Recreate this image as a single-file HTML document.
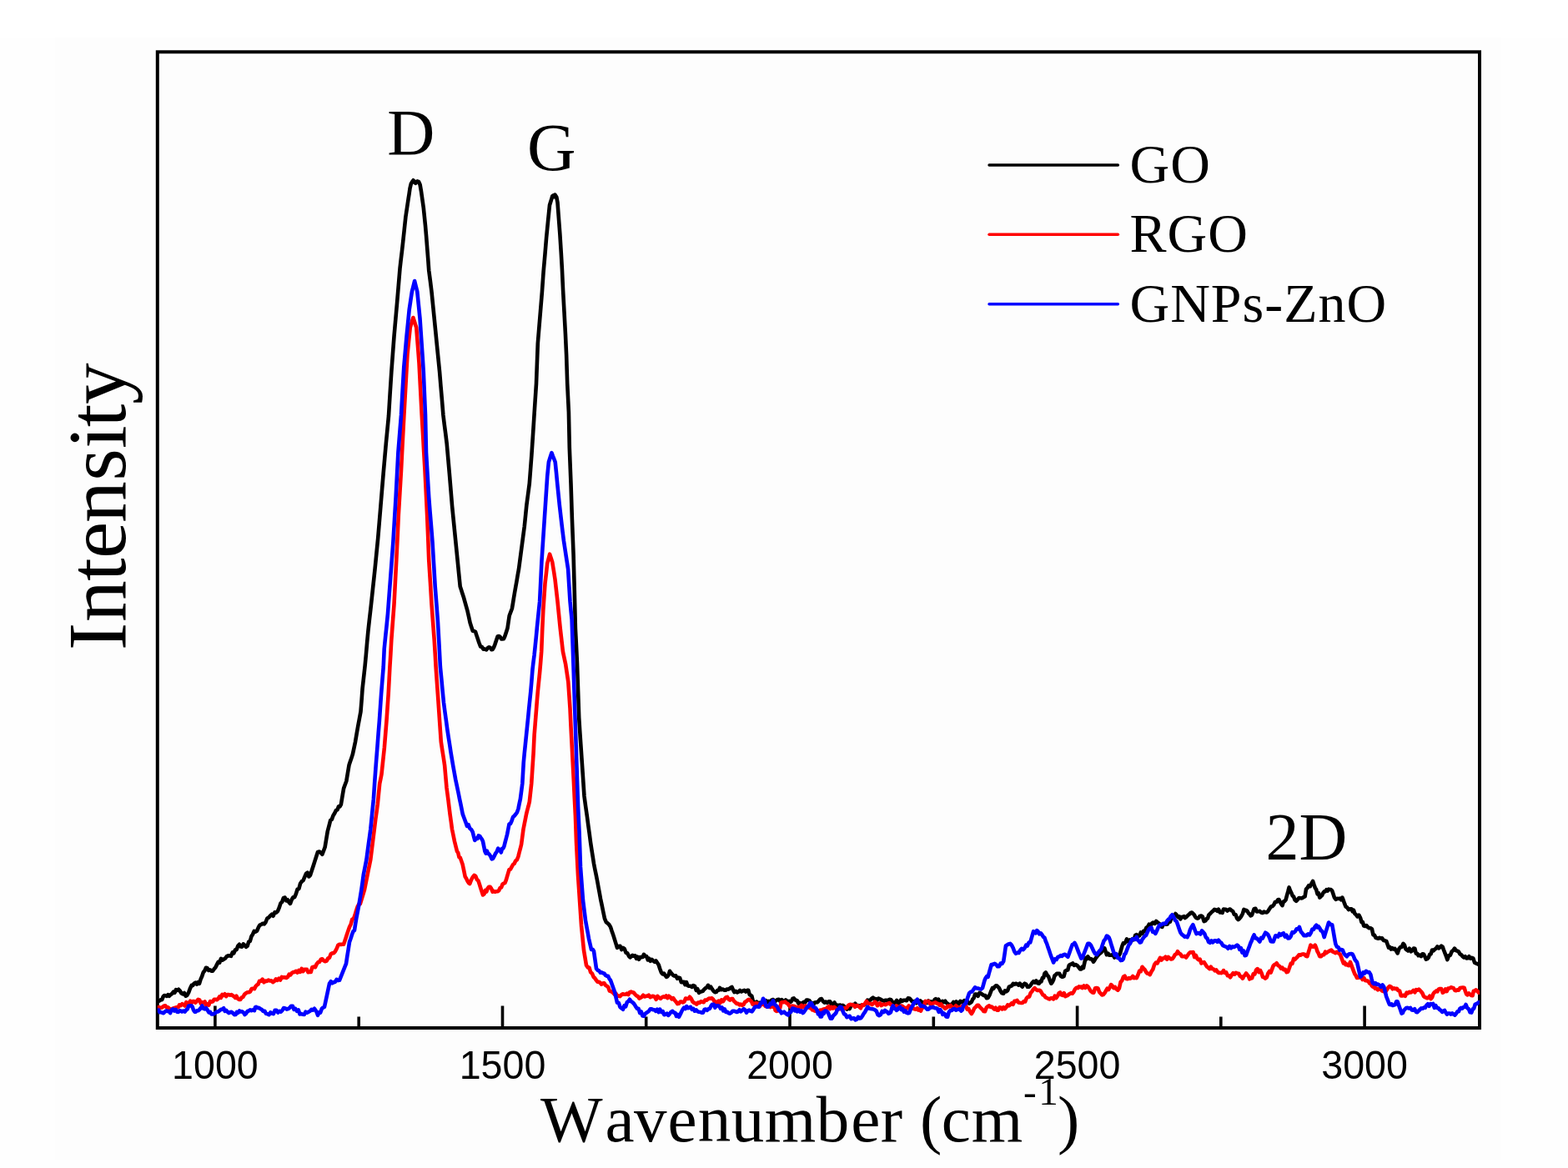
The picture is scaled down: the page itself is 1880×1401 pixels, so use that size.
<!DOCTYPE html>
<html><head><meta charset="utf-8"><title>Raman spectra</title>
<style>html,body{margin:0;padding:0;background:#fff;}svg{display:block;}.sf{font-family:"Liberation Serif",serif;}.ss{font-family:"Liberation Sans",sans-serif;}</style>
</head><body>
<svg width="1880" height="1401" viewBox="0 0 1880 1401"><rect x="0" y="0" width="1880" height="1401" fill="#ffffff"/><rect x="0" y="45" width="1880" height="1356" fill="#fefefe"/><rect x="66" y="45" width="1734" height="1346" fill="#fdfdfd"/><rect x="188.8" y="62.3" width="1585.2" height="1170.7" fill="none" stroke="#000" stroke-width="4"/><path d="M257.9 1233.0V1206.5M602.5 1233.0V1206.5M947.0 1233.0V1206.5M1291.6 1233.0V1206.5M1636.1 1233.0V1206.5M430.2 1233.0V1219.5M774.7 1233.0V1219.5M1119.3 1233.0V1219.5M1463.8 1233.0V1219.5" stroke="#000" stroke-width="3.6" fill="none"/><defs><clipPath id="pc"><rect x="188.8" y="40" width="1585.2" height="1193"/></clipPath></defs><path clip-path="url(#pc)" d="M189.0 1201.7L190.2 1200.8L191.4 1200.4L192.8 1199.1L194.2 1199.2L195.7 1195.4L197.1 1194.0L198.6 1194.2L200.0 1194.8L201.4 1193.1L202.9 1194.7L204.6 1193.1L206.3 1191.9L208.0 1189.6L209.5 1190.7L211.0 1187.2L212.6 1187.9L214.1 1186.7L215.6 1188.3L217.4 1191.3L219.1 1192.4L220.9 1191.0L222.7 1194.7L224.4 1193.7L226.2 1190.4L227.9 1185.8L229.7 1181.9L231.2 1182.1L232.8 1179.6L234.3 1178.6L235.9 1180.6L237.4 1178.1L239.0 1179.8L240.6 1174.6L242.2 1171.0L243.8 1166.2L245.4 1164.4L247.0 1160.8L248.6 1161.3L250.2 1164.0L251.8 1163.3L253.4 1164.6L255.0 1164.8L256.7 1162.3L258.3 1160.5L260.0 1157.1L261.7 1153.8L263.3 1154.6L265.0 1149.8L266.7 1151.7L268.4 1150.5L270.1 1149.5L271.9 1147.2L273.6 1146.4L275.3 1146.3L277.0 1146.8L278.7 1142.5L280.3 1143.4L282.0 1139.3L283.7 1139.1L285.3 1134.6L287.0 1132.8L288.6 1135.5L290.2 1135.6L291.8 1132.3L293.4 1133.9L295.0 1135.8L296.6 1134.7L298.2 1129.7L299.8 1129.0L301.4 1123.3L303.0 1120.8L304.7 1117.0L306.4 1117.7L308.1 1116.5L309.9 1112.3L311.6 1109.6L313.3 1108.9L315.0 1107.8L316.8 1108.4L318.6 1106.0L320.4 1101.5L322.2 1100.6L324.0 1098.5L325.8 1096.8L327.6 1098.7L329.4 1094.3L331.2 1094.6L333.0 1092.8L334.8 1088.6L336.5 1083.4L338.2 1081.9L340.0 1076.9L341.6 1076.6L343.2 1080.4L344.8 1079.3L346.4 1082.1L348.0 1083.9L349.7 1079.3L351.5 1076.3L353.2 1076.2L354.9 1072.2L356.6 1066.6L358.4 1066.0L360.1 1059.7L361.8 1057.2L363.5 1056.1L365.3 1051.8L367.0 1047.9L368.7 1046.7L370.3 1051.5L372.0 1049.9L373.8 1044.3L375.6 1038.7L377.4 1033.1L379.2 1027.5L381.0 1021.9L382.8 1021.5L384.6 1022.7L386.4 1024.8L388.0 1020.5L389.6 1016.3L391.2 1006.6L392.8 997.0L394.5 990.6L396.1 984.2L397.8 982.9L399.5 978.3L401.2 975.5L402.9 971.9L404.6 971.3L406.0 967.3L407.5 967.4L408.9 964.9L410.5 955.2L412.1 945.6L413.7 941.3L415.3 937.0L416.9 927.4L418.5 917.8L419.9 913.5L421.4 909.2L422.8 904.9L424.4 897.4L426.0 889.9L427.6 880.3L429.3 870.7L430.9 862.1L432.5 853.5L433.6 839.6L434.6 825.7L436.1 812.2L437.6 798.8L438.9 784.9L440.1 770.9L441.4 757.0L442.8 744.2L444.3 731.3L445.7 718.5L447.0 706.3L448.3 694.2L449.6 682.0L451.4 663.8L453.2 645.6L454.8 626.4L456.4 607.1L458.0 587.8L459.6 568.5L461.2 550.3L462.8 532.1L464.4 515.5L466.0 498.8L467.6 472.6L469.3 446.3L470.9 424.9L472.5 403.5L473.7 389.9L474.9 376.4L476.1 362.8L477.8 342.5L479.5 322.1L480.7 311.4L482.0 300.7L483.2 290.0L484.8 275.0L486.4 260.0L488.0 249.3L489.6 238.6L490.6 232.3L491.5 226.0L492.8 220.5L494.5 217.6L495.5 216.3L496.5 217.3L497.4 219.0L498.3 219.8L499.3 218.0L500.3 217.4L502.0 217.9L503.6 221.5L505.0 229.5L506.4 239.4L507.8 249.3L508.9 260.0L510.0 270.7L511.1 283.5L512.1 296.4L513.2 310.3L514.2 324.2L515.9 337.1L517.5 350.0L519.1 366.0L520.7 382.0L522.3 398.1L523.9 414.2L525.5 430.2L527.1 446.3L528.5 463.4L530.0 480.6L531.4 497.7L532.8 509.2L534.3 520.6L535.7 532.1L537.3 550.3L538.9 568.5L540.5 587.8L542.1 607.1L543.7 623.2L545.3 639.2L546.9 655.2L548.5 671.3L550.1 687.4L551.7 703.5L553.2 708.0L554.6 712.6L556.1 717.1L557.5 722.1L558.9 727.1L560.3 732.1L562.0 739.6L563.6 747.1L565.2 751.9L566.8 756.7L568.4 757.0L570.0 757.8L571.4 762.1L572.9 766.4L574.3 770.7L576.1 775.5L577.8 776.0L579.6 778.8L581.4 778.6L583.2 779.4L585.0 777.1L586.4 776.3L587.9 776.9L589.3 779.2L590.7 778.9L592.1 776.4L593.5 772.8L595.1 768.0L596.7 763.2L598.1 763.1L599.6 763.9L601.0 766.4L602.4 766.4L603.9 766.3L605.3 763.2L606.9 758.4L608.5 753.5L609.6 746.0L610.7 738.5L612.3 734.2L613.9 730.0L615.0 723.5L616.0 717.1L617.1 710.7L618.2 704.3L619.5 697.1L620.7 689.9L622.0 682.7L623.7 669.9L625.4 657.0L627.1 644.1L628.8 631.3L630.1 618.5L631.4 605.6L633.1 592.8L634.8 579.9L636.1 562.8L637.4 545.7L639.1 520.0L640.2 502.9L641.3 485.7L643.0 460.0L644.8 411.9L646.5 391.3L648.2 370.7L649.9 350.2L651.6 326.2L653.4 305.7L655.1 285.1L656.2 274.0L657.3 262.8L659.0 246.0L660.1 242.5L661.2 239.0L662.2 235.4L663.3 234.5L664.4 236.1L665.5 233.6L667.3 236.5L668.5 243.0L669.6 257.7L671.3 280.0L672.7 302.2L673.9 322.8L675.1 348.5L676.5 374.2L677.9 399.9L679.1 425.6L680.2 460.0L681.9 494.3L682.8 537.1L684.5 579.9L685.9 622.7L687.6 665.6L688.8 709.5L689.9 753.5L691.0 775.0L692.0 796.4L693.1 828.5L694.2 860.6L695.2 876.7L696.3 892.7L697.4 908.8L698.5 924.9L699.5 940.0L700.5 955.0L702.2 967.5L704.0 980.0L705.3 990.0L706.7 1000.0L708.0 1010.0L709.3 1018.6L710.7 1027.3L712.0 1035.9L713.3 1042.6L714.7 1049.2L716.0 1055.9L717.3 1063.2L718.7 1070.6L720.0 1077.9L721.7 1085.9L723.3 1093.9L725.0 1101.9L726.8 1106.2L728.5 1107.4L730.2 1109.0L732.0 1111.9L733.3 1115.9L734.7 1119.9L736.0 1123.9L737.3 1128.2L738.7 1132.6L740.0 1136.9L741.8 1135.1L743.5 1134.8L745.2 1139.0L747.0 1136.9L748.8 1138.2L750.5 1142.8L752.2 1143.2L754.0 1146.8L755.5 1148.3L757.0 1147.2L758.5 1145.8L760.0 1146.8L761.5 1146.3L763.0 1149.8L764.5 1147.8L766.0 1150.8L767.5 1148.1L769.0 1148.1L770.5 1147.9L772.0 1144.8L773.6 1146.9L775.2 1147.0L776.8 1151.5L778.4 1149.8L780.0 1152.8L781.6 1151.0L783.2 1152.5L784.8 1153.8L786.4 1152.4L788.0 1154.8L789.7 1157.3L791.3 1162.2L793.0 1166.8L794.5 1168.4L796.0 1167.6L797.5 1169.9L799.0 1171.8L800.3 1171.3L801.7 1169.3L803.0 1164.8L804.8 1167.3L806.6 1169.3L808.4 1170.6L810.2 1170.3L812.0 1173.8L813.6 1172.5L815.2 1173.2L816.8 1178.1L818.4 1177.9L820.0 1177.8L821.5 1181.2L823.0 1178.1L824.5 1182.2L826.0 1182.8L827.8 1182.7L829.5 1183.9L831.2 1182.0L833.0 1182.8L834.7 1187.8L836.3 1186.2L838.0 1190.8L839.6 1189.7L841.1 1189.3L842.7 1188.8L844.3 1186.7L845.9 1185.3L847.4 1184.4L849.0 1181.8L850.7 1185.0L852.3 1183.8L854.0 1186.7L855.7 1189.0L857.3 1190.2L859.0 1189.8L860.3 1187.8L861.7 1187.8L863.0 1184.8L864.8 1187.2L866.5 1186.6L868.2 1187.6L870.0 1187.8L871.5 1186.5L873.0 1186.7L874.5 1186.1L876.0 1184.8L877.5 1183.9L879.0 1187.4L880.5 1190.1L882.0 1188.8L883.8 1190.4L885.5 1189.6L887.2 1187.9L889.0 1189.4L890.8 1188.5L892.5 1187.8L894.2 1189.5L896.0 1187.8L897.3 1187.9L898.7 1193.0L900.0 1193.8L901.3 1194.6L902.7 1200.3L904.0 1202.8L905.6 1202.7L907.2 1201.6L908.8 1203.7L910.4 1202.8L912.0 1202.8L913.6 1203.2L915.2 1204.5L916.8 1201.3L918.4 1200.1L920.0 1202.2L921.7 1200.9L923.5 1202.2L925.2 1199.6L926.9 1199.0L928.6 1201.9L930.3 1200.4L932.1 1199.0L933.8 1198.8L935.5 1201.1L937.2 1199.1L939.0 1201.1L940.7 1200.9L942.1 1199.5L943.5 1200.6L944.9 1202.3L946.3 1200.9L947.7 1201.9L949.0 1200.9L950.4 1197.7L951.8 1197.4L953.2 1199.3L954.5 1199.7L955.9 1200.4L957.3 1203.6L958.9 1202.9L960.5 1203.8L962.1 1203.2L963.8 1201.8L965.4 1202.3L967.0 1199.5L968.7 1199.6L970.3 1200.2L972.0 1202.6L973.6 1202.9L975.3 1205.0L976.9 1202.5L978.5 1202.3L980.1 1202.1L981.8 1200.4L983.4 1198.4L985.0 1198.1L986.7 1200.9L988.5 1202.7L990.2 1201.5L991.9 1202.9L993.6 1201.3L995.3 1201.4L997.1 1205.7L998.8 1204.3L1000.5 1202.5L1002.3 1206.0L1004.0 1205.7L1005.8 1205.7L1007.4 1205.6L1009.0 1208.6L1010.6 1205.9L1012.2 1207.2L1013.8 1209.5L1015.4 1210.5L1017.1 1207.4L1018.7 1210.1L1020.4 1206.4L1022.0 1205.0L1023.7 1205.7L1025.4 1203.8L1027.2 1206.6L1028.9 1206.0L1030.6 1206.4L1032.2 1206.1L1033.8 1205.3L1035.4 1205.2L1036.9 1205.0L1038.5 1202.8L1040.1 1199.7L1041.7 1200.2L1043.4 1199.7L1045.0 1197.9L1046.7 1196.7L1048.3 1198.4L1050.0 1198.1L1051.7 1199.5L1053.3 1197.5L1055.0 1198.3L1056.6 1199.1L1058.3 1200.2L1060.0 1200.8L1061.6 1199.7L1063.3 1199.9L1064.9 1200.3L1066.6 1198.8L1068.3 1199.2L1070.0 1201.8L1071.8 1203.2L1073.5 1202.2L1075.2 1200.0L1076.8 1203.7L1078.5 1202.4L1080.1 1199.5L1081.8 1200.9L1083.5 1199.8L1085.2 1199.7L1087.0 1200.2L1088.7 1197.4L1090.4 1197.5L1092.0 1199.1L1093.7 1201.2L1095.3 1201.6L1097.0 1200.9L1098.6 1203.2L1100.2 1201.2L1101.8 1202.2L1103.5 1200.4L1105.1 1203.0L1106.7 1202.2L1108.3 1203.5L1109.9 1202.6L1111.6 1202.9L1113.2 1200.4L1114.8 1203.5L1116.4 1201.5L1117.8 1202.9L1119.2 1202.0L1120.5 1199.1L1121.9 1198.1L1123.5 1200.1L1125.1 1198.6L1126.8 1202.0L1128.4 1202.5L1130.0 1200.8L1131.6 1202.2L1133.3 1200.8L1134.9 1203.0L1136.6 1204.1L1138.2 1205.7L1139.9 1205.0L1141.6 1204.5L1143.2 1202.0L1144.9 1205.2L1146.5 1201.3L1148.2 1202.9L1149.8 1204.0L1151.4 1200.9L1153.1 1201.4L1154.7 1203.3L1156.3 1200.1L1157.9 1201.5L1159.3 1200.2L1160.7 1202.3L1162.0 1203.6L1163.4 1202.9L1164.8 1201.9L1166.2 1198.6L1167.6 1197.2L1169.0 1192.6L1170.8 1192.6L1172.6 1194.8L1174.4 1190.9L1176.2 1191.6L1178.0 1193.0L1179.7 1194.1L1181.3 1194.0L1182.9 1197.1L1184.6 1197.0L1186.4 1193.7L1188.1 1189.2L1189.9 1185.1L1191.2 1185.8L1192.6 1183.6L1193.9 1182.4L1195.2 1182.4L1196.6 1183.7L1197.9 1185.1L1199.7 1188.9L1201.4 1191.3L1203.2 1191.7L1204.9 1188.4L1206.6 1189.3L1208.2 1187.9L1209.9 1183.7L1211.5 1183.0L1213.1 1182.4L1214.7 1179.9L1216.3 1180.7L1217.9 1179.7L1219.6 1180.4L1221.2 1181.5L1222.8 1179.6L1224.5 1182.4L1225.8 1183.7L1227.2 1180.7L1228.5 1179.7L1230.3 1180.6L1232.0 1183.8L1233.8 1183.7L1235.6 1181.8L1237.3 1179.3L1239.1 1177.1L1240.8 1178.6L1242.4 1176.4L1244.1 1179.2L1245.8 1179.7L1247.1 1177.1L1248.5 1177.4L1249.8 1173.1L1251.1 1172.8L1252.5 1167.6L1253.8 1166.4L1255.5 1169.6L1257.1 1171.3L1258.8 1176.1L1260.4 1179.7L1261.7 1178.1L1263.1 1175.3L1264.4 1170.4L1265.7 1169.4L1267.1 1167.8L1268.4 1167.8L1270.2 1167.7L1271.9 1171.0L1273.7 1171.8L1275.5 1171.1L1277.2 1164.8L1279.0 1163.8L1280.3 1163.3L1281.7 1158.0L1283.1 1156.9L1284.4 1156.5L1286.2 1155.4L1287.9 1157.8L1289.7 1157.1L1291.5 1158.0L1293.2 1160.0L1295.0 1162.4L1296.3 1162.5L1297.7 1159.7L1299.0 1161.1L1300.3 1155.1L1301.6 1149.1L1302.9 1150.2L1304.3 1147.4L1305.6 1149.1L1306.9 1150.3L1308.3 1150.3L1309.7 1151.2L1311.0 1153.8L1312.3 1151.9L1313.6 1149.5L1314.9 1147.8L1316.7 1145.5L1318.5 1143.9L1320.3 1142.5L1321.6 1140.9L1323.0 1137.4L1324.3 1137.2L1325.6 1141.2L1326.9 1145.2L1328.6 1143.8L1330.2 1145.8L1331.9 1145.8L1333.6 1145.2L1334.9 1146.2L1336.3 1148.5L1337.6 1147.8L1339.4 1147.0L1341.1 1146.8L1342.9 1143.8L1344.2 1139.2L1345.5 1134.5L1346.8 1131.3L1348.2 1131.6L1349.6 1129.9L1350.9 1126.5L1352.7 1129.3L1354.4 1127.5L1356.2 1129.2L1357.8 1126.3L1359.5 1127.1L1361.2 1121.9L1362.8 1121.2L1364.5 1123.2L1366.2 1122.3L1367.8 1118.5L1369.5 1119.9L1371.2 1116.7L1372.8 1116.9L1374.4 1112.8L1376.1 1111.9L1377.8 1108.7L1379.4 1110.8L1381.1 1107.6L1382.8 1106.6L1384.6 1107.9L1386.3 1104.9L1388.1 1106.6L1389.9 1107.9L1391.6 1111.0L1393.4 1111.9L1395.0 1108.4L1396.6 1107.9L1398.2 1108.8L1399.8 1108.5L1401.4 1105.3L1403.0 1105.6L1404.6 1099.8L1406.2 1099.7L1407.8 1099.0L1409.4 1096.0L1410.9 1097.6L1412.4 1100.1L1413.9 1099.4L1415.4 1102.4L1416.8 1100.1L1418.2 1099.9L1419.5 1099.2L1420.9 1101.0L1422.6 1099.7L1424.2 1098.0L1425.9 1096.7L1427.6 1094.9L1429.0 1094.5L1430.3 1095.8L1431.7 1097.1L1433.1 1099.7L1434.4 1101.1L1435.8 1101.6L1437.2 1101.1L1438.5 1099.0L1440.2 1098.5L1441.9 1099.7L1443.6 1105.1L1445.3 1104.4L1446.7 1102.2L1448.0 1101.6L1449.3 1097.5L1450.7 1096.3L1452.5 1094.3L1454.3 1092.8L1456.1 1090.9L1457.7 1091.3L1459.4 1092.7L1461.0 1090.7L1462.7 1094.5L1464.3 1094.3L1465.6 1094.8L1467.0 1090.6L1468.3 1090.9L1469.9 1090.9L1471.6 1092.5L1473.2 1091.2L1474.9 1090.5L1476.5 1092.2L1478.2 1093.0L1479.8 1097.0L1481.5 1097.1L1483.2 1101.7L1484.6 1103.1L1485.9 1102.2L1487.3 1100.4L1488.7 1098.2L1490.0 1095.7L1491.4 1090.9L1492.8 1092.2L1494.1 1091.8L1495.5 1092.9L1496.8 1095.2L1498.2 1096.5L1499.5 1098.3L1500.9 1097.8L1502.2 1094.3L1503.6 1090.2L1505.3 1089.8L1507.0 1093.4L1508.7 1093.3L1510.4 1092.9L1512.1 1094.5L1513.8 1095.0L1515.5 1093.5L1517.2 1094.3L1518.9 1094.4L1520.6 1092.6L1522.2 1090.1L1523.9 1087.5L1525.5 1087.1L1527.2 1085.4L1528.8 1082.1L1530.5 1082.0L1532.1 1079.3L1533.4 1079.0L1534.8 1082.0L1536.2 1084.3L1537.5 1086.1L1538.9 1081.6L1540.2 1080.9L1541.6 1079.3L1542.9 1074.3L1544.3 1069.4L1545.6 1064.4L1547.0 1068.4L1548.4 1071.2L1549.7 1074.5L1551.1 1075.4L1552.4 1079.3L1554.1 1080.8L1555.8 1079.1L1557.5 1077.1L1559.2 1077.3L1561.0 1077.4L1562.8 1076.3L1564.6 1075.3L1566.0 1066.5L1567.6 1064.8L1569.2 1062.2L1570.9 1063.1L1572.5 1059.6L1574.1 1057.0L1575.5 1061.3L1576.8 1064.9L1578.2 1067.1L1579.6 1072.5L1580.9 1071.2L1582.3 1076.6L1583.6 1075.3L1585.0 1074.1L1586.3 1071.2L1587.7 1069.4L1589.0 1069.4L1590.4 1067.1L1591.8 1068.5L1593.1 1066.6L1594.5 1067.0L1595.8 1067.1L1597.2 1068.4L1598.5 1072.3L1599.9 1076.6L1601.7 1078.9L1603.5 1077.8L1605.3 1078.0L1606.7 1077.6L1608.0 1079.2L1609.4 1076.6L1610.8 1080.2L1612.1 1083.9L1613.5 1087.5L1615.2 1088.5L1616.9 1091.1L1618.6 1090.2L1620.3 1090.2L1621.7 1093.3L1623.0 1091.7L1624.3 1095.7L1625.7 1097.0L1627.5 1099.5L1629.3 1097.6L1631.1 1101.0L1632.5 1106.1L1633.8 1105.8L1635.2 1110.5L1636.8 1110.9L1638.4 1110.1L1640.1 1112.2L1641.7 1113.3L1643.3 1113.3L1644.9 1114.2L1646.4 1121.2L1648.0 1121.7L1649.6 1125.0L1651.0 1125.2L1652.5 1125.7L1654.0 1124.8L1655.4 1125.5L1657.1 1125.4L1658.8 1127.9L1660.5 1128.3L1662.2 1128.9L1663.6 1132.8L1665.0 1136.6L1666.5 1136.1L1667.9 1138.5L1669.3 1137.1L1670.8 1138.5L1672.4 1137.9L1674.0 1140.6L1675.6 1143.4L1677.3 1138.4L1679.0 1136.0L1680.7 1135.9L1682.4 1131.8L1683.9 1133.5L1685.3 1138.0L1686.8 1139.5L1688.2 1140.5L1689.9 1137.7L1691.6 1141.3L1693.2 1140.4L1694.9 1137.6L1696.4 1137.8L1697.8 1143.8L1699.2 1143.7L1700.7 1146.2L1702.3 1145.5L1703.9 1147.1L1705.5 1144.3L1707.0 1144.6L1708.4 1147.3L1709.8 1150.7L1711.3 1150.1L1712.8 1148.5L1714.2 1144.7L1715.6 1144.4L1717.1 1139.5L1718.7 1140.3L1720.3 1138.7L1721.9 1137.6L1723.4 1135.4L1725.0 1137.4L1726.5 1136.2L1728.1 1134.6L1729.6 1135.6L1731.0 1139.5L1732.5 1143.3L1734.0 1147.2L1735.4 1151.1L1737.1 1146.3L1738.8 1145.8L1740.6 1141.3L1742.3 1140.0L1744.0 1137.6L1745.6 1140.0L1747.2 1140.6L1748.8 1141.3L1750.5 1144.4L1752.1 1145.2L1753.7 1147.2L1755.2 1148.5L1756.8 1147.3L1758.3 1149.5L1759.9 1149.3L1761.4 1147.2L1763.1 1149.7L1764.7 1148.8L1766.4 1149.6L1768.0 1154.6L1769.7 1155.5L1771.3 1156.2L1773.0 1157.0" fill="none" stroke="#000000" stroke-width="4.6" stroke-linejoin="round" stroke-linecap="round"/><path clip-path="url(#pc)" d="M189.0 1208.4L190.6 1208.1L192.1 1208.8L193.6 1208.7L195.2 1207.8L196.7 1206.5L198.3 1206.3L199.8 1208.4L201.4 1208.3L202.9 1209.7L204.7 1210.8L206.5 1210.0L208.2 1209.3L210.0 1208.8L211.8 1208.2L213.5 1208.3L215.1 1205.4L216.8 1206.1L218.4 1204.2L220.1 1205.2L221.7 1206.5L223.3 1202.1L224.9 1205.0L226.5 1203.0L228.1 1200.7L229.7 1203.1L231.2 1201.1L232.8 1201.0L234.4 1202.7L236.0 1200.7L237.6 1198.9L239.2 1199.4L240.8 1203.7L242.4 1202.2L244.0 1202.8L245.6 1201.4L247.2 1206.0L248.8 1204.3L250.4 1205.6L252.0 1201.0L253.6 1201.7L255.2 1201.3L256.8 1198.8L258.4 1198.7L260.0 1199.3L261.6 1197.9L263.2 1195.4L264.8 1196.9L266.4 1192.9L268.0 1194.0L269.6 1192.3L271.2 1195.2L272.8 1193.1L274.3 1193.0L275.9 1193.7L277.5 1193.1L279.0 1194.3L280.5 1195.1L282.0 1196.9L283.5 1194.7L285.1 1197.8L286.6 1198.9L288.2 1198.9L289.7 1196.6L291.4 1195.8L293.2 1192.7L294.9 1191.2L296.7 1190.2L298.4 1190.3L300.0 1189.4L301.7 1186.0L303.3 1185.7L305.0 1186.1L306.5 1183.1L308.0 1181.5L309.5 1180.6L311.0 1176.8L312.8 1176.8L314.6 1174.6L316.4 1178.3L318.2 1176.5L320.0 1176.9L321.8 1175.5L323.6 1176.5L325.4 1176.3L327.2 1178.1L329.0 1176.8L330.8 1174.4L332.6 1175.9L334.3 1173.7L336.1 1175.5L337.9 1171.9L339.7 1172.4L341.4 1172.2L343.2 1173.0L345.0 1171.8L346.7 1168.6L348.3 1169.3L350.0 1167.0L351.7 1166.1L353.3 1165.9L355.0 1164.8L356.7 1166.6L358.3 1164.0L360.0 1165.9L361.7 1161.9L363.3 1165.1L365.0 1162.8L366.5 1162.9L368.0 1162.9L369.5 1166.2L371.0 1165.8L372.7 1166.0L374.4 1160.1L376.1 1159.6L377.9 1160.2L379.6 1156.5L381.3 1154.3L383.0 1153.8L384.7 1150.8L386.4 1150.3L388.1 1152.2L389.9 1153.2L391.6 1152.5L393.3 1149.5L395.0 1148.8L396.7 1144.3L398.4 1143.4L400.1 1143.3L401.9 1141.2L403.6 1138.0L405.3 1133.8L407.0 1132.8L408.7 1132.9L410.3 1132.7L412.0 1132.8L413.8 1127.6L415.5 1122.3L417.2 1117.1L419.0 1111.9L420.7 1108.4L422.3 1102.7L424.0 1101.8L425.6 1097.6L427.3 1091.7L428.8 1087.1L430.3 1084.6L431.8 1084.3L433.3 1079.5L434.5 1075.5L435.8 1071.4L437.0 1067.4L438.2 1061.3L439.4 1055.3L440.6 1049.2L441.8 1043.1L443.1 1037.1L444.3 1031.0L445.8 1018.9L447.3 1006.7L448.8 994.6L450.3 982.5L451.6 973.4L452.8 964.3L454.0 952.1L455.2 940.0L456.4 934.2L457.5 928.5L459.2 912.5L460.9 896.4L462.2 880.3L463.5 864.2L464.6 848.2L465.7 832.1L467.4 800.0L468.4 783.9L469.3 767.7L470.9 746.3L472.5 724.9L473.9 698.1L475.3 671.3L476.6 644.5L477.8 617.8L479.4 591.0L481.0 564.3L482.6 532.1L484.3 500.0L485.7 475.0L487.1 449.9L488.5 424.9L490.1 408.9L491.8 392.8L493.6 386.9L495.4 381.0L496.7 384.9L497.9 388.9L499.2 392.8L500.9 414.2L502.5 435.6L504.1 466.6L505.7 497.7L507.0 519.9L508.2 542.1L509.5 564.3L510.8 591.0L512.1 617.8L513.2 644.5L514.2 671.3L515.9 698.1L517.5 724.9L519.1 746.3L520.7 767.7L521.7 783.9L522.6 800.0L524.1 821.4L525.6 842.8L527.2 866.3L528.8 889.9L530.2 899.2L531.7 908.5L533.1 917.8L534.3 931.4L535.5 945.0L536.5 952.5L537.5 960.0L538.5 968.2L539.5 976.4L540.8 985.5L542.0 994.6L543.5 1001.9L545.0 1009.2L546.5 1015.2L548.0 1021.3L549.2 1022.7L550.5 1028.2L551.7 1028.6L553.2 1032.8L554.7 1037.1L556.2 1044.3L557.7 1051.6L559.1 1053.8L560.5 1056.8L561.8 1058.9L563.2 1060.1L565.0 1055.4L566.8 1052.2L568.6 1049.8L570.2 1050.9L571.9 1055.1L573.5 1056.5L574.9 1060.8L576.2 1065.0L577.6 1069.2L579.0 1073.5L580.4 1072.5L581.9 1067.9L583.3 1069.5L584.8 1065.4L586.2 1063.8L587.7 1063.8L589.1 1065.9L590.6 1069.6L592.0 1068.9L593.5 1069.8L595.0 1069.2L596.5 1069.3L598.1 1068.3L599.6 1065.0L601.1 1064.3L602.5 1060.7L604.0 1059.6L605.4 1059.1L606.9 1055.3L608.1 1051.2L609.3 1047.2L610.5 1043.1L612.0 1042.6L613.5 1039.9L615.1 1037.0L616.6 1035.9L618.2 1032.5L619.8 1031.3L621.4 1027.4L622.6 1022.5L623.9 1017.7L625.1 1012.8L626.3 1003.7L627.5 994.6L628.7 988.5L629.9 982.5L631.1 976.4L632.3 971.5L633.6 966.7L634.8 961.8L636.0 950.9L637.2 940.0L638.4 921.7L639.6 903.4L640.6 882.0L641.7 868.1L642.8 854.2L643.8 841.4L644.9 828.5L646.0 817.8L647.1 807.1L648.2 794.2L649.2 781.4L650.3 753.5L651.3 732.1L652.4 716.0L653.5 700.0L654.9 687.9L656.2 675.8L657.7 670.2L659.1 664.7L660.7 669.4L662.2 674.1L663.9 684.5L665.5 695.0L667.0 708.2L668.5 721.4L670.1 737.5L671.7 753.5L673.3 767.5L674.9 781.4L676.5 788.9L678.1 796.4L679.7 807.1L681.3 817.8L682.4 833.8L683.5 849.9L684.5 871.3L685.6 892.7L686.7 914.1L687.8 935.5L688.8 957.0L689.9 978.4L691.0 1010.0L692.0 1030.0L693.0 1049.9L694.0 1064.9L695.0 1079.9L696.0 1094.9L697.0 1109.9L698.5 1124.9L700.0 1139.9L701.5 1148.8L703.0 1157.8L704.8 1160.6L706.5 1160.6L708.2 1166.3L710.0 1167.8L711.6 1171.7L713.2 1173.2L714.8 1175.6L716.4 1177.7L718.0 1177.8L719.6 1178.8L721.2 1180.7L722.8 1179.6L724.4 1179.2L726.0 1181.8L727.6 1182.7L729.2 1184.1L730.8 1188.6L732.4 1189.1L734.0 1189.8L735.5 1191.2L737.0 1192.9L738.5 1191.8L740.0 1194.8L741.7 1194.6L743.3 1195.1L745.0 1193.3L746.7 1192.3L748.3 1192.7L750.0 1192.8L751.7 1191.7L753.3 1193.0L755.0 1190.2L756.7 1189.6L758.3 1190.3L760.0 1190.8L761.6 1192.9L763.2 1194.4L764.8 1195.1L766.4 1197.6L768.0 1196.8L769.6 1195.8L771.2 1193.8L772.8 1195.5L774.4 1194.9L776.0 1194.8L777.8 1193.7L779.6 1196.2L781.3 1195.1L783.1 1194.9L784.9 1195.7L786.7 1198.8L788.4 1194.9L790.2 1196.8L792.0 1197.8L793.7 1196.3L795.3 1195.4L797.0 1196.0L798.7 1194.5L800.3 1197.2L802.0 1194.8L803.7 1196.1L805.4 1198.3L807.1 1197.1L808.9 1199.8L810.6 1201.7L812.3 1204.1L814.0 1203.8L815.6 1201.6L817.2 1201.6L818.9 1202.4L820.5 1201.3L822.1 1197.5L823.8 1198.0L825.4 1198.0L827.0 1195.8L828.7 1197.7L830.3 1201.3L832.0 1202.8L833.7 1203.4L835.3 1204.6L837.0 1202.5L838.7 1203.0L840.3 1201.3L842.0 1201.8L843.7 1202.2L845.3 1199.6L847.0 1199.8L848.7 1198.5L850.3 1197.6L852.0 1197.8L853.6 1197.3L855.2 1198.9L856.8 1201.6L858.4 1201.5L860.0 1203.8L861.7 1200.6L863.4 1202.9L865.1 1199.4L866.9 1201.2L868.6 1198.5L870.3 1196.4L872.0 1195.8L873.6 1198.5L875.2 1199.6L876.8 1198.0L878.4 1198.1L880.0 1200.8L881.7 1202.3L883.3 1204.0L885.0 1203.8L886.7 1205.4L888.3 1204.6L890.0 1205.8L891.6 1204.9L893.2 1201.9L894.8 1201.2L896.4 1199.6L898.0 1198.8L899.5 1199.8L901.0 1201.3L902.5 1204.7L904.0 1204.8L905.7 1203.3L907.4 1203.4L909.1 1203.7L910.9 1207.0L912.6 1204.9L914.3 1202.7L916.0 1204.8L917.6 1206.8L919.1 1207.4L920.7 1207.6L922.2 1205.9L923.8 1208.0L925.3 1206.5L926.9 1207.8L928.3 1207.3L929.6 1211.9L931.0 1212.9L932.4 1212.6L933.8 1208.7L935.2 1209.1L936.6 1202.6L938.0 1202.2L939.7 1202.2L941.3 1201.6L943.0 1203.2L944.6 1204.0L946.3 1206.4L948.0 1208.0L949.6 1206.6L951.3 1206.7L952.9 1207.2L954.6 1209.2L956.2 1207.9L957.7 1210.1L959.3 1208.5L960.9 1205.8L962.5 1208.1L964.0 1207.0L965.6 1206.4L967.4 1206.9L969.1 1207.9L970.9 1209.2L972.6 1209.2L974.0 1211.4L975.4 1210.9L976.7 1212.4L978.1 1212.6L979.8 1212.3L981.5 1212.9L983.3 1211.6L985.0 1211.9L986.7 1210.7L988.5 1210.3L990.2 1210.3L991.9 1208.5L993.6 1207.3L995.2 1210.2L996.9 1208.0L998.5 1209.6L1000.2 1207.8L1001.9 1209.2L1003.5 1211.0L1005.2 1210.3L1006.8 1209.6L1008.5 1210.5L1010.2 1209.2L1011.8 1209.4L1013.5 1209.2L1015.1 1208.8L1016.8 1206.4L1018.5 1205.0L1020.1 1204.9L1021.8 1205.4L1023.4 1205.6L1025.1 1207.8L1026.8 1206.1L1028.5 1206.2L1030.3 1207.7L1032.0 1209.2L1033.7 1205.3L1035.5 1205.9L1037.2 1203.5L1038.9 1200.9L1040.6 1203.6L1042.2 1204.1L1043.9 1203.7L1045.5 1205.1L1047.2 1203.6L1048.8 1201.6L1050.4 1202.7L1052.0 1206.2L1053.5 1204.3L1055.1 1203.3L1056.7 1206.0L1058.3 1205.0L1059.9 1204.6L1061.5 1205.2L1063.2 1204.2L1064.8 1203.8L1066.4 1203.1L1068.0 1205.0L1069.7 1205.8L1071.5 1207.8L1073.2 1208.3L1074.9 1206.4L1076.6 1207.9L1078.2 1209.0L1079.9 1206.6L1081.5 1206.6L1083.2 1207.8L1084.8 1210.0L1086.4 1208.7L1088.1 1209.3L1089.7 1206.5L1091.3 1207.7L1092.9 1209.2L1094.6 1209.1L1096.3 1210.3L1098.1 1210.7L1099.8 1209.2L1101.2 1211.5L1102.6 1210.7L1104.0 1212.6L1105.4 1209.1L1106.8 1208.4L1108.1 1206.1L1109.5 1200.9L1111.2 1201.5L1113.0 1200.8L1114.7 1203.5L1116.4 1203.6L1118.1 1203.8L1119.8 1203.0L1121.6 1202.4L1123.3 1203.6L1125.0 1203.9L1126.6 1205.8L1128.3 1204.4L1129.9 1207.1L1131.6 1207.8L1133.2 1209.9L1134.8 1208.9L1136.4 1206.7L1138.1 1207.4L1139.7 1206.0L1141.3 1207.8L1142.9 1208.9L1144.5 1208.4L1146.1 1206.3L1147.6 1208.0L1149.2 1208.2L1150.8 1208.2L1152.4 1207.8L1153.8 1206.7L1155.2 1205.9L1156.5 1205.6L1157.9 1205.7L1159.6 1210.6L1161.3 1210.1L1163.1 1213.5L1164.8 1216.1L1166.5 1213.3L1168.2 1209.4L1170.0 1207.8L1171.7 1205.7L1173.2 1205.8L1174.7 1207.8L1176.3 1209.5L1177.8 1210.8L1179.3 1213.0L1181.0 1213.3L1182.7 1208.7L1184.3 1207.2L1186.0 1206.3L1187.5 1207.9L1189.1 1207.6L1190.7 1209.0L1192.2 1210.5L1193.8 1208.8L1195.3 1211.6L1196.9 1211.7L1198.5 1208.4L1200.0 1208.5L1201.6 1210.4L1203.2 1208.3L1204.9 1210.1L1206.6 1208.1L1208.2 1205.3L1209.9 1206.3L1211.5 1205.0L1213.1 1203.2L1214.7 1204.7L1216.3 1200.8L1217.9 1201.0L1219.5 1200.0L1221.1 1202.4L1222.7 1202.8L1224.3 1203.0L1225.9 1203.0L1227.6 1201.1L1229.2 1201.5L1230.8 1197.3L1232.5 1195.7L1234.1 1195.6L1235.7 1191.0L1237.3 1189.2L1238.9 1186.6L1240.5 1185.1L1242.3 1187.0L1244.0 1188.0L1245.8 1187.7L1247.3 1188.1L1248.9 1190.9L1250.4 1193.4L1252.0 1193.9L1253.5 1196.2L1255.1 1197.0L1256.7 1197.8L1258.3 1198.5L1259.9 1197.2L1261.5 1197.2L1263.1 1198.4L1264.7 1194.6L1266.3 1197.0L1267.9 1194.9L1269.5 1191.5L1271.1 1190.4L1272.7 1193.3L1274.3 1193.9L1275.8 1191.2L1277.4 1195.1L1279.0 1194.4L1280.7 1193.4L1282.3 1192.2L1284.0 1191.3L1285.7 1191.7L1287.3 1189.7L1289.0 1186.3L1290.7 1184.7L1292.3 1185.1L1293.7 1183.3L1295.0 1184.2L1296.3 1183.5L1297.7 1185.1L1299.5 1182.5L1301.2 1184.8L1303.0 1182.4L1304.7 1183.8L1306.3 1186.4L1307.9 1188.9L1309.6 1190.4L1311.4 1190.6L1313.1 1185.2L1314.9 1185.1L1316.5 1185.4L1318.1 1189.9L1319.7 1191.7L1321.3 1193.4L1322.9 1193.0L1324.5 1191.1L1326.0 1188.4L1327.6 1185.6L1329.1 1187.0L1330.7 1184.3L1332.2 1181.1L1333.8 1182.7L1335.4 1185.1L1337.0 1184.0L1338.6 1186.5L1340.2 1187.7L1341.9 1185.6L1343.6 1177.9L1345.2 1176.3L1346.9 1171.8L1348.6 1170.7L1350.2 1174.0L1351.8 1174.3L1353.5 1173.1L1355.0 1173.8L1356.6 1172.8L1358.2 1170.9L1359.7 1173.1L1361.2 1172.5L1362.8 1173.1L1364.5 1169.3L1366.2 1164.5L1367.8 1165.1L1369.5 1159.8L1371.0 1161.5L1372.6 1163.2L1374.2 1166.0L1375.7 1167.8L1377.2 1167.8L1378.8 1169.1L1380.6 1165.3L1382.3 1162.7L1384.1 1157.1L1385.9 1154.7L1387.6 1155.4L1389.4 1151.8L1391.0 1148.8L1392.6 1151.6L1394.2 1149.5L1395.8 1149.2L1397.4 1147.8L1399.1 1150.7L1400.8 1147.9L1402.4 1149.4L1404.1 1150.5L1405.7 1150.0L1407.3 1147.9L1408.8 1145.0L1410.4 1144.3L1412.0 1141.2L1413.7 1143.7L1415.4 1144.5L1417.1 1147.2L1418.8 1147.2L1420.5 1146.9L1422.2 1148.5L1423.9 1146.0L1425.6 1143.5L1427.3 1142.2L1429.0 1142.4L1430.6 1142.1L1432.2 1148.1L1433.9 1146.0L1435.5 1149.9L1437.1 1151.2L1438.7 1150.6L1440.4 1155.5L1442.0 1154.7L1443.7 1154.1L1445.3 1156.7L1446.9 1159.3L1448.5 1160.5L1450.2 1162.1L1451.8 1159.7L1453.4 1162.1L1455.0 1162.4L1456.6 1164.4L1458.2 1163.4L1459.7 1165.6L1461.3 1166.9L1462.9 1166.8L1464.3 1167.1L1465.6 1166.5L1467.0 1164.1L1468.6 1166.9L1470.2 1166.4L1471.9 1170.2L1473.5 1170.4L1475.1 1172.3L1476.8 1169.4L1478.5 1167.3L1480.2 1168.7L1481.9 1166.8L1483.5 1167.5L1485.1 1167.7L1486.8 1170.8L1488.4 1171.8L1490.0 1173.6L1491.4 1170.8L1492.7 1169.8L1494.1 1167.5L1495.4 1169.2L1496.8 1170.7L1498.2 1174.3L1499.5 1173.6L1501.1 1173.2L1502.8 1168.1L1504.4 1168.4L1506.1 1163.5L1507.7 1162.1L1509.3 1166.0L1510.9 1163.9L1512.5 1167.0L1514.0 1171.8L1515.6 1172.4L1517.2 1173.6L1518.8 1172.2L1520.4 1167.6L1522.1 1165.0L1523.7 1166.5L1525.3 1162.1L1526.7 1158.4L1528.0 1157.2L1529.3 1156.7L1530.7 1155.3L1532.4 1158.1L1534.1 1158.8L1535.8 1161.6L1537.5 1160.7L1539.2 1163.2L1540.9 1162.8L1542.6 1166.2L1544.3 1165.5L1546.0 1160.8L1547.7 1155.6L1549.4 1155.9L1551.1 1149.9L1552.7 1150.8L1554.3 1149.0L1556.0 1147.3L1557.6 1145.3L1559.2 1145.8L1560.8 1144.8L1562.5 1144.4L1564.1 1144.8L1565.8 1146.8L1567.4 1147.2L1568.7 1142.7L1570.1 1138.1L1571.4 1133.6L1573.2 1135.4L1575.0 1135.6L1576.8 1133.6L1578.2 1137.1L1579.5 1141.2L1580.9 1143.7L1582.3 1147.2L1584.0 1147.1L1585.7 1145.4L1587.3 1145.3L1589.0 1141.7L1590.4 1143.0L1591.8 1141.9L1593.1 1141.1L1594.5 1140.4L1596.2 1139.6L1597.9 1141.6L1599.6 1142.2L1601.3 1143.1L1602.7 1141.9L1604.0 1142.4L1605.3 1143.7L1606.7 1144.5L1608.1 1148.1L1609.4 1151.7L1610.8 1155.3L1612.2 1154.5L1613.5 1157.2L1614.8 1156.5L1616.2 1158.0L1617.6 1158.2L1618.9 1153.9L1620.3 1157.5L1621.6 1161.2L1623.0 1164.8L1624.3 1168.3L1625.7 1170.3L1627.0 1172.9L1628.6 1172.6L1630.3 1172.4L1631.9 1171.5L1633.6 1175.0L1635.2 1172.9L1637.0 1176.2L1638.8 1176.3L1640.6 1177.0L1642.0 1179.5L1643.3 1179.0L1644.7 1182.4L1646.0 1183.7L1647.4 1183.1L1648.7 1185.7L1650.4 1185.5L1652.1 1187.3L1653.9 1185.9L1655.6 1186.8L1657.3 1188.6L1658.8 1189.2L1660.2 1187.6L1661.6 1189.0L1663.1 1186.7L1664.7 1184.2L1666.3 1182.9L1667.9 1183.8L1669.6 1186.3L1671.3 1185.3L1673.0 1186.1L1674.7 1185.7L1676.4 1188.1L1678.1 1188.4L1679.7 1194.4L1681.4 1194.4L1683.1 1193.7L1684.8 1194.8L1686.5 1190.6L1688.2 1191.5L1689.8 1189.8L1691.4 1190.5L1693.0 1189.6L1694.7 1188.0L1696.3 1190.3L1698.0 1187.1L1699.7 1187.7L1701.2 1186.7L1702.6 1188.0L1704.0 1189.5L1705.5 1191.5L1707.0 1195.0L1708.4 1196.1L1709.8 1196.6L1711.3 1197.3L1712.8 1196.7L1714.2 1194.7L1715.6 1198.1L1717.1 1196.3L1718.4 1192.3L1719.6 1190.5L1720.9 1189.6L1722.2 1188.3L1723.5 1189.3L1724.8 1186.7L1726.5 1186.0L1728.2 1186.1L1729.8 1190.7L1731.5 1189.6L1733.1 1186.5L1734.7 1189.1L1736.3 1185.5L1738.0 1185.5L1739.6 1184.3L1741.2 1184.8L1742.7 1185.1L1744.3 1187.9L1745.8 1188.1L1747.4 1187.3L1748.9 1187.7L1750.6 1185.1L1752.2 1184.8L1753.9 1184.6L1755.6 1184.8L1756.9 1189.0L1758.2 1192.4L1759.5 1193.4L1761.1 1191.4L1762.7 1193.0L1764.3 1193.9L1765.6 1194.2L1766.8 1188.8L1768.1 1188.6L1769.7 1187.3L1771.4 1188.9L1773.0 1190.6" fill="none" stroke="#ff0000" stroke-width="4.6" stroke-linejoin="round" stroke-linecap="round"/><path clip-path="url(#pc)" d="M189.0 1211.9L190.2 1211.5L191.5 1214.2L192.7 1214.1L194.4 1214.7L196.1 1215.2L197.8 1213.4L199.4 1212.4L200.9 1213.0L202.5 1213.1L204.1 1215.1L205.7 1211.4L207.3 1210.3L209.0 1212.5L210.7 1210.9L212.4 1213.8L213.8 1213.9L215.3 1212.3L216.8 1212.6L218.2 1213.5L219.9 1212.5L221.6 1213.6L223.3 1211.3L224.7 1210.5L226.2 1206.5L227.6 1206.4L229.0 1206.2L230.6 1207.4L232.2 1211.9L233.5 1213.7L234.7 1213.6L236.0 1212.3L237.6 1212.3L239.2 1210.9L240.8 1209.1L242.4 1206.5L244.0 1209.8L245.6 1210.4L247.2 1209.2L248.8 1211.6L250.4 1214.4L252.0 1213.9L253.6 1216.4L255.2 1216.4L256.8 1216.0L258.4 1214.6L260.0 1213.6L261.6 1213.5L263.3 1212.2L265.0 1210.7L266.7 1210.6L268.2 1209.3L269.7 1212.9L271.2 1211.9L272.8 1213.7L274.4 1215.1L275.9 1214.2L277.5 1213.8L279.2 1215.1L280.9 1217.1L282.6 1217.0L284.1 1213.8L285.6 1214.8L287.1 1212.5L288.7 1213.4L290.3 1213.3L291.9 1214.5L293.5 1217.0L295.1 1215.7L296.7 1213.0L298.3 1212.5L299.9 1211.3L301.6 1212.1L303.3 1211.4L305.0 1212.2L306.0 1208.3L307.0 1207.8L308.7 1208.9L310.4 1208.9L312.1 1210.0L313.9 1211.0L315.6 1212.9L317.3 1212.7L319.0 1215.8L320.8 1216.2L322.6 1217.2L324.3 1214.3L326.1 1215.5L327.9 1216.1L329.7 1211.7L331.4 1211.8L333.2 1214.5L335.0 1212.8L336.8 1213.6L338.5 1211.9L340.2 1209.0L342.0 1209.4L343.8 1210.7L345.5 1210.1L347.2 1208.9L349.0 1206.8L350.8 1206.7L352.5 1210.9L354.2 1210.0L356.0 1212.8L357.8 1211.4L359.5 1216.5L361.2 1216.0L363.0 1216.8L364.8 1216.9L366.5 1213.7L368.2 1214.7L370.0 1213.7L371.8 1212.8L373.5 1210.9L375.2 1211.7L377.0 1209.8L378.3 1211.7L379.7 1214.2L381.0 1217.8L382.6 1214.3L384.2 1214.6L385.8 1210.0L387.4 1208.5L389.0 1207.8L390.5 1200.8L392.0 1193.8L393.5 1186.8L395.0 1179.8L396.7 1177.2L398.4 1179.3L400.1 1178.3L401.9 1177.7L403.6 1174.8L405.3 1176.1L407.0 1175.8L408.6 1171.8L410.2 1167.8L411.8 1163.8L413.4 1159.8L415.0 1155.8L416.3 1147.2L417.7 1138.5L419.0 1129.9L420.5 1125.7L422.0 1121.0L423.5 1117.1L425.0 1115.9L426.1 1108.7L427.3 1101.4L428.8 1093.5L430.3 1085.6L431.8 1076.5L433.3 1067.4L434.6 1058.3L435.8 1049.2L437.6 1040.1L439.4 1031.0L440.6 1021.9L441.8 1012.8L443.1 1003.7L444.3 994.6L445.2 985.5L446.1 976.4L447.9 958.2L449.1 940.0L450.7 917.8L452.4 896.4L453.6 880.3L454.9 864.2L456.0 848.2L457.1 832.1L458.4 816.0L459.7 800.0L460.7 778.4L462.1 764.1L463.6 749.9L465.0 735.6L466.6 714.2L468.2 692.8L469.8 671.3L471.4 649.9L473.0 623.1L474.6 596.4L476.0 569.6L477.4 542.8L478.6 527.8L479.8 512.7L481.0 497.7L482.6 468.8L484.3 439.9L485.9 421.7L487.5 403.5L489.1 387.4L490.7 371.3L492.3 360.6L493.9 349.9L495.5 343.5L497.1 337.1L498.7 343.5L500.3 349.9L501.9 365.9L503.5 382.0L504.6 398.1L505.7 414.2L506.8 430.2L507.8 446.3L508.9 472.0L510.0 497.7L511.0 542.8L512.6 569.6L514.2 596.4L515.6 614.2L517.1 632.1L518.5 649.9L520.1 676.7L521.7 703.5L523.4 724.9L525.0 746.3L526.5 773.1L527.9 800.0L529.3 814.3L530.6 828.5L532.0 842.8L533.4 853.5L534.9 864.2L536.3 874.9L537.7 884.2L539.2 893.5L540.6 902.8L541.9 910.6L543.2 918.4L544.7 926.7L546.2 935.0L548.0 943.5L549.8 952.1L551.0 958.2L552.3 964.3L553.5 970.3L554.7 976.4L556.5 981.2L558.3 986.1L559.9 990.8L561.6 989.2L563.2 993.4L565.0 994.9L566.8 998.2L568.0 1003.1L569.3 1008.0L570.8 1005.7L572.3 1006.0L573.8 1002.4L575.3 1003.1L576.5 1005.0L577.8 1006.6L579.0 1009.2L580.2 1015.2L581.4 1021.3L582.6 1023.6L583.8 1020.6L585.0 1023.7L586.5 1024.5L588.0 1026.7L589.6 1030.4L591.1 1029.8L592.6 1026.9L594.2 1023.6L595.7 1021.5L597.2 1017.7L599.0 1019.2L600.8 1022.5L602.0 1017.9L603.2 1017.6L604.4 1015.2L605.6 1010.4L606.9 1005.5L608.1 1000.7L609.3 994.6L610.5 988.5L612.0 988.0L613.5 984.7L615.1 980.1L616.6 978.8L618.2 976.8L619.8 974.7L621.4 970.3L622.6 964.2L623.9 958.2L625.1 949.1L626.3 940.0L627.8 914.1L628.8 903.4L629.9 892.7L631.0 882.0L632.1 871.3L633.2 860.6L634.2 849.9L635.3 839.2L636.4 828.5L637.5 815.6L638.5 802.8L639.5 794.2L640.6 785.7L641.7 775.0L642.8 764.2L643.8 753.5L644.9 742.8L646.0 732.1L647.1 721.4L648.2 699.0L649.4 674.1L651.1 648.4L652.8 622.7L654.5 597.0L656.2 571.3L657.9 554.2L659.6 548.7L661.4 543.1L662.8 546.8L664.3 550.5L665.7 554.2L667.0 567.0L668.2 579.9L669.5 592.8L670.8 605.6L672.1 616.8L673.4 627.9L674.6 638.1L675.9 648.4L677.2 657.0L678.5 665.6L679.8 674.2L681.1 682.7L682.3 702.0L683.5 721.4L684.5 732.1L685.6 742.8L686.7 774.9L687.8 807.1L688.8 839.2L689.9 871.3L691.0 903.4L692.0 935.5L693.1 967.7L694.6 998.7L696.0 1039.9L697.5 1059.9L699.0 1079.9L700.5 1091.9L702.0 1103.9L703.3 1111.2L704.7 1118.6L706.0 1125.9L707.5 1132.4L709.0 1138.9L710.5 1138.7L712.0 1140.8L713.5 1151.3L715.0 1161.8L716.7 1163.9L718.3 1164.5L720.0 1166.8L721.5 1166.4L723.0 1167.3L724.5 1167.7L726.0 1169.8L727.5 1170.6L729.0 1170.7L730.5 1173.8L732.0 1175.8L733.7 1180.5L735.3 1185.1L737.0 1189.8L738.5 1196.3L740.0 1202.8L741.8 1202.9L743.5 1208.0L745.2 1209.3L747.0 1210.8L748.6 1206.1L750.2 1207.3L751.8 1202.2L753.4 1201.1L755.0 1198.8L756.8 1201.3L758.6 1202.4L760.4 1204.4L762.2 1207.3L764.0 1209.8L765.6 1209.9L767.2 1215.1L768.8 1213.4L770.4 1218.5L772.0 1218.8L773.5 1216.0L775.0 1214.9L776.5 1213.8L778.0 1212.8L779.7 1210.3L781.3 1210.4L783.0 1211.2L784.7 1211.2L786.3 1212.9L788.0 1210.8L789.7 1214.1L791.3 1210.7L793.0 1214.0L794.7 1213.1L796.3 1217.2L798.0 1216.8L799.7 1215.7L801.3 1217.9L803.0 1216.0L804.7 1213.7L806.3 1212.9L808.0 1214.8L809.5 1214.9L811.0 1219.0L812.5 1216.9L814.0 1219.8L815.5 1217.0L817.0 1213.7L818.5 1210.8L820.0 1208.8L821.6 1210.0L823.2 1207.1L824.8 1209.2L826.4 1208.8L828.0 1207.8L829.7 1210.8L831.3 1209.9L833.0 1212.7L834.7 1211.5L836.3 1213.1L838.0 1213.8L839.7 1214.0L841.3 1214.7L843.0 1214.6L844.7 1210.7L846.3 1210.5L848.0 1211.8L849.5 1210.2L851.0 1209.7L852.5 1206.7L854.0 1204.8L855.7 1204.7L857.3 1208.6L859.0 1206.4L860.7 1206.2L862.3 1206.9L864.0 1209.8L865.6 1208.4L867.2 1212.4L868.8 1210.4L870.4 1214.0L872.0 1213.8L873.6 1215.3L875.2 1215.7L876.8 1214.6L878.4 1212.7L880.0 1212.8L881.7 1213.2L883.3 1214.0L885.0 1213.3L886.7 1211.2L888.3 1213.2L890.0 1211.8L891.7 1210.2L893.3 1211.3L895.0 1214.6L896.7 1212.3L898.3 1211.6L900.0 1212.8L901.7 1213.3L903.3 1210.9L905.0 1208.0L906.7 1207.3L908.3 1207.5L910.0 1207.8L911.7 1203.7L913.3 1203.1L915.0 1197.8L916.7 1200.0L918.3 1206.1L920.0 1207.8L921.7 1207.5L923.5 1203.6L925.2 1204.4L926.9 1200.2L928.6 1204.3L930.3 1206.0L932.1 1207.9L933.8 1211.9L935.4 1212.5L937.0 1215.3L938.6 1214.5L940.1 1213.7L941.7 1215.3L943.3 1216.6L944.9 1217.5L946.6 1214.2L948.3 1214.0L950.1 1209.6L951.8 1209.8L953.2 1212.4L954.6 1210.7L956.0 1213.3L957.7 1211.5L959.3 1213.7L961.0 1212.4L962.6 1215.1L964.3 1213.3L966.0 1210.7L967.8 1208.2L969.5 1207.0L971.2 1202.9L972.9 1203.2L974.7 1207.2L976.4 1208.3L978.1 1209.2L979.5 1211.4L980.9 1216.5L982.2 1214.7L983.6 1219.5L985.0 1219.4L986.4 1214.4L987.8 1215.9L989.2 1212.6L990.9 1212.8L992.5 1214.1L994.2 1218.0L995.8 1221.8L997.5 1221.6L999.1 1218.2L1000.7 1216.9L1002.3 1215.2L1003.9 1211.2L1005.5 1210.2L1007.1 1207.8L1008.8 1208.0L1010.4 1212.5L1012.1 1216.4L1013.7 1217.0L1015.4 1220.2L1017.1 1219.3L1018.8 1218.8L1020.6 1222.2L1022.3 1221.6L1024.0 1221.3L1025.6 1223.5L1027.3 1222.7L1028.9 1219.8L1030.6 1221.6L1032.2 1221.2L1033.8 1219.0L1035.4 1216.2L1037.1 1213.9L1038.7 1210.9L1040.3 1207.8L1042.0 1209.5L1043.8 1209.9L1045.5 1210.2L1047.2 1210.5L1049.0 1211.3L1050.7 1212.6L1052.5 1217.2L1054.2 1218.1L1055.9 1217.0L1057.7 1213.0L1059.4 1214.1L1061.1 1211.9L1062.5 1213.3L1063.8 1213.7L1065.2 1215.8L1066.6 1215.4L1068.0 1214.1L1069.4 1208.9L1070.8 1206.4L1072.2 1209.7L1073.5 1210.1L1074.9 1211.9L1076.3 1210.9L1077.7 1208.8L1079.1 1207.8L1080.7 1211.1L1082.3 1210.1L1083.9 1213.7L1085.5 1212.1L1087.1 1214.9L1088.7 1215.4L1090.1 1215.0L1091.5 1211.7L1092.9 1208.1L1094.3 1206.4L1095.7 1202.6L1097.0 1202.5L1098.4 1200.3L1099.8 1198.8L1101.2 1202.1L1102.5 1203.9L1103.9 1206.7L1105.3 1206.4L1107.0 1207.0L1108.6 1207.6L1110.3 1209.2L1111.9 1210.8L1113.6 1210.5L1115.3 1208.2L1117.1 1208.5L1118.8 1207.9L1120.6 1209.2L1122.3 1209.2L1123.9 1209.9L1125.6 1213.8L1127.2 1211.1L1128.9 1213.3L1130.3 1216.8L1131.7 1215.5L1133.0 1216.6L1134.4 1219.5L1136.1 1219.8L1137.8 1213.8L1139.6 1212.0L1141.3 1211.9L1142.9 1210.3L1144.5 1210.1L1146.1 1211.7L1147.6 1211.0L1149.2 1210.8L1150.8 1210.3L1152.4 1212.6L1153.8 1211.3L1155.2 1206.0L1156.5 1204.6L1157.9 1203.6L1159.3 1199.5L1160.7 1195.3L1162.1 1191.2L1163.8 1189.8L1165.5 1189.5L1167.3 1186.8L1169.0 1184.3L1170.8 1185.4L1172.6 1185.5L1174.4 1186.1L1176.2 1186.6L1178.0 1185.1L1179.3 1180.4L1180.6 1175.7L1181.9 1172.8L1183.3 1171.0L1184.6 1171.8L1185.9 1166.9L1187.3 1162.0L1188.6 1157.1L1189.9 1157.2L1191.3 1156.3L1192.6 1155.8L1194.4 1157.0L1196.1 1159.3L1197.9 1159.1L1199.7 1155.6L1201.4 1156.0L1203.2 1153.1L1204.6 1143.8L1205.9 1134.5L1207.7 1133.3L1209.4 1132.4L1211.2 1131.9L1212.9 1133.7L1214.6 1136.8L1216.2 1141.2L1217.9 1143.8L1219.7 1142.7L1221.4 1143.0L1223.2 1139.8L1225.0 1137.9L1226.7 1139.1L1228.5 1137.2L1230.2 1133.7L1231.8 1134.5L1233.5 1130.6L1235.2 1130.5L1236.5 1126.1L1237.8 1121.6L1239.1 1117.2L1240.4 1118.8L1241.8 1119.3L1243.2 1116.1L1244.5 1117.2L1246.2 1120.3L1247.8 1119.3L1249.4 1121.3L1251.1 1123.9L1252.4 1124.7L1253.8 1129.0L1255.1 1131.9L1256.4 1135.9L1257.8 1139.8L1259.1 1143.8L1260.4 1147.4L1261.8 1150.9L1263.1 1154.5L1264.9 1150.4L1266.6 1151.0L1268.4 1147.8L1270.1 1147.5L1271.8 1146.1L1273.4 1146.8L1275.1 1145.2L1276.9 1144.8L1278.6 1146.2L1280.4 1147.8L1282.2 1142.9L1283.9 1138.1L1285.7 1133.2L1287.0 1132.6L1288.4 1130.9L1289.7 1133.2L1291.5 1137.6L1293.2 1142.1L1295.0 1146.5L1296.3 1149.6L1297.7 1149.1L1299.3 1144.8L1301.0 1140.5L1302.7 1136.2L1304.3 1131.9L1306.1 1131.8L1307.8 1133.6L1309.6 1137.2L1311.4 1141.2L1313.1 1144.0L1314.9 1145.2L1316.7 1142.7L1318.5 1140.4L1320.3 1138.5L1322.0 1132.9L1323.6 1128.3L1325.2 1126.7L1326.9 1122.6L1328.2 1123.2L1329.6 1124.5L1330.9 1127.9L1332.2 1132.3L1333.6 1136.8L1334.9 1141.2L1336.7 1145.7L1338.4 1144.3L1340.2 1149.1L1342.0 1149.4L1343.7 1152.1L1345.5 1151.8L1346.8 1150.3L1348.2 1144.7L1349.5 1143.8L1350.8 1140.3L1352.2 1136.7L1353.5 1133.2L1354.8 1132.1L1356.2 1129.0L1357.5 1126.5L1359.3 1126.2L1361.0 1126.8L1362.8 1123.9L1364.1 1127.5L1365.5 1128.8L1366.8 1130.5L1368.1 1130.0L1369.5 1126.9L1370.8 1125.2L1372.4 1123.0L1374.0 1121.9L1375.6 1118.5L1377.2 1115.0L1378.8 1113.2L1380.5 1112.7L1382.1 1117.9L1383.8 1117.5L1385.4 1119.9L1387.2 1116.0L1388.9 1111.9L1390.7 1109.3L1392.5 1109.1L1394.3 1107.9L1396.1 1107.9L1397.6 1107.7L1399.2 1104.8L1400.8 1102.9L1402.3 1102.1L1403.9 1098.8L1405.4 1097.3L1407.2 1100.1L1408.9 1103.8L1410.7 1105.3L1412.3 1109.8L1413.8 1114.2L1415.4 1118.7L1417.0 1120.8L1418.7 1122.0L1420.3 1123.7L1422.0 1123.3L1423.6 1124.1L1425.3 1120.6L1426.9 1115.2L1428.6 1111.7L1430.3 1109.2L1431.7 1112.8L1433.0 1116.4L1434.4 1120.0L1436.0 1119.3L1437.7 1119.2L1439.3 1120.6L1441.0 1116.3L1442.6 1118.0L1444.2 1119.9L1445.8 1124.3L1447.5 1125.6L1449.1 1129.9L1450.7 1130.9L1452.5 1128.4L1454.3 1130.3L1456.1 1128.2L1457.7 1128.4L1459.4 1129.6L1461.0 1127.8L1462.7 1129.9L1464.3 1130.9L1465.9 1133.7L1467.5 1134.7L1469.2 1135.3L1470.8 1136.0L1472.4 1137.7L1474.2 1134.9L1476.0 1137.2L1477.8 1135.4L1479.6 1136.0L1481.4 1134.8L1483.2 1133.6L1484.8 1134.9L1486.3 1138.8L1487.9 1137.1L1489.4 1142.7L1491.0 1140.4L1492.5 1146.2L1494.1 1145.8L1495.4 1142.1L1496.8 1138.3L1498.2 1134.6L1499.5 1130.9L1500.9 1128.1L1502.2 1124.3L1503.6 1121.4L1505.3 1125.4L1507.0 1125.5L1508.7 1127.5L1510.4 1129.5L1512.1 1124.8L1513.8 1125.5L1515.5 1122.0L1517.2 1118.7L1518.8 1119.7L1520.4 1121.2L1522.1 1124.8L1523.7 1129.3L1525.3 1129.5L1526.7 1129.5L1528.0 1125.9L1529.3 1122.3L1530.7 1122.7L1532.3 1123.6L1534.0 1120.0L1535.6 1121.8L1537.3 1120.1L1538.9 1119.4L1540.7 1123.6L1542.5 1121.8L1544.3 1125.5L1546.0 1125.2L1547.7 1123.1L1549.4 1118.2L1551.1 1118.7L1552.8 1117.3L1554.5 1114.4L1556.2 1114.5L1557.9 1111.9L1559.7 1117.4L1561.5 1119.5L1563.3 1122.1L1565.0 1121.9L1566.7 1122.2L1568.4 1120.4L1570.1 1121.4L1571.8 1118.7L1573.4 1114.5L1575.1 1114.8L1576.8 1111.2L1578.2 1109.7L1579.5 1112.4L1580.9 1111.3L1582.3 1113.3L1583.7 1116.3L1585.0 1116.7L1586.3 1119.2L1587.7 1124.1L1589.5 1118.2L1591.3 1112.4L1593.1 1106.5L1594.5 1108.0L1595.8 1109.3L1597.2 1109.2L1598.6 1116.9L1599.9 1124.5L1601.3 1132.2L1603.0 1135.7L1604.7 1136.4L1606.3 1139.6L1608.0 1139.0L1609.7 1139.4L1611.4 1143.7L1613.1 1145.8L1614.8 1147.2L1616.5 1145.0L1618.2 1144.2L1619.9 1144.0L1621.6 1144.5L1622.9 1147.0L1624.3 1150.6L1625.7 1152.6L1627.0 1154.0L1628.4 1159.9L1629.7 1165.7L1631.1 1171.6L1632.8 1170.2L1634.5 1166.3L1636.2 1167.5L1637.9 1164.8L1639.7 1166.2L1641.5 1166.0L1643.3 1168.9L1644.5 1174.0L1645.8 1179.0L1647.4 1180.2L1649.0 1179.1L1650.6 1180.9L1652.3 1180.6L1654.1 1181.8L1655.8 1183.8L1657.6 1181.4L1659.3 1183.8L1660.8 1189.6L1662.2 1195.4L1663.5 1198.6L1664.7 1201.8L1666.0 1205.0L1667.3 1205.1L1668.6 1204.4L1669.9 1206.0L1671.3 1205.6L1672.8 1205.1L1674.2 1201.3L1675.6 1201.2L1677.2 1206.0L1678.9 1210.8L1680.5 1215.6L1681.8 1215.0L1683.0 1212.2L1684.3 1210.8L1686.0 1209.0L1687.7 1208.8L1689.4 1209.5L1691.1 1208.9L1692.8 1211.5L1694.4 1211.8L1696.1 1210.2L1697.8 1213.7L1699.3 1214.2L1700.9 1212.5L1702.4 1211.0L1704.0 1209.4L1705.5 1209.8L1707.1 1208.6L1708.7 1208.8L1710.3 1205.9L1711.9 1204.3L1713.5 1206.8L1715.1 1204.1L1716.7 1204.8L1718.2 1204.0L1719.8 1208.8L1721.3 1206.1L1722.9 1208.9L1724.4 1209.0L1726.0 1211.0L1727.5 1211.9L1729.1 1213.8L1730.6 1212.7L1732.0 1211.9L1733.4 1214.5L1734.9 1216.6L1736.3 1215.6L1737.9 1215.5L1739.5 1216.6L1741.2 1215.4L1742.8 1216.6L1744.4 1217.7L1746.0 1215.6L1747.5 1213.2L1748.9 1213.3L1750.3 1209.9L1751.8 1208.9L1753.2 1209.7L1754.7 1208.2L1756.1 1207.6L1757.5 1205.0L1759.2 1209.1L1760.9 1210.2L1762.6 1214.3L1764.3 1214.6L1765.8 1210.4L1767.2 1209.7L1768.6 1204.8L1770.1 1204.1L1771.5 1203.5L1773.0 1202.1" fill="none" stroke="#0000ff" stroke-width="4.6" stroke-linejoin="round" stroke-linecap="round"/><text transform="translate(257.9 1293.6) scale(0.955 1)" class="ss" font-size="48.8" text-anchor="middle">1000</text><text transform="translate(602.5 1293.6) scale(0.955 1)" class="ss" font-size="48.8" text-anchor="middle">1500</text><text transform="translate(947.0 1293.6) scale(0.955 1)" class="ss" font-size="48.8" text-anchor="middle">2000</text><text transform="translate(1291.6 1293.6) scale(0.955 1)" class="ss" font-size="48.8" text-anchor="middle">2500</text><text transform="translate(1636.1 1293.6) scale(0.955 1)" class="ss" font-size="48.8" text-anchor="middle">3000</text><text x="648.0 725.6 760.1 800.4 836.7 876.7 916.7 978.7 1020.3 1055.7 1090 1103.1 1128.8 1164.8" y="1369.3" class="sf" font-size="79">Wavenumber (cm</text><text x="1227" y="1324.5" class="sf" font-size="47" letter-spacing="2.6">-1</text><text x="1268" y="1369.3" class="sf" font-size="79">)</text><text transform="translate(149.6 780) rotate(-90)" x="-0.1 34.0 83.1 109.9 153.1 203.3 242.0 267.8 295.1" y="0" class="sf" font-size="99.5">Intensity</text><text x="464.3" y="184.5" class="sf" font-size="79">D</text><text x="632" y="204.3" class="sf" font-size="81">G</text><text x="1517.5" y="1031" class="sf" font-size="80">2D</text><path d="M1186 198H1340.4" stroke="#000" stroke-width="3.4" stroke-linecap="round"/><text x="1354.5" y="219" class="sf" font-size="66" letter-spacing="1.0">GO</text><path d="M1186 281.3H1340.4" stroke="#ff0000" stroke-width="3.4" stroke-linecap="round"/><text x="1354.5" y="302.4" class="sf" font-size="66" letter-spacing="1.0">RGO</text><path d="M1186 364.8H1340.4" stroke="#0000ff" stroke-width="3.4" stroke-linecap="round"/><text x="1354.5" y="385.7" class="sf" font-size="66" letter-spacing="1.0">GNPs-ZnO</text></svg>
</body></html>
